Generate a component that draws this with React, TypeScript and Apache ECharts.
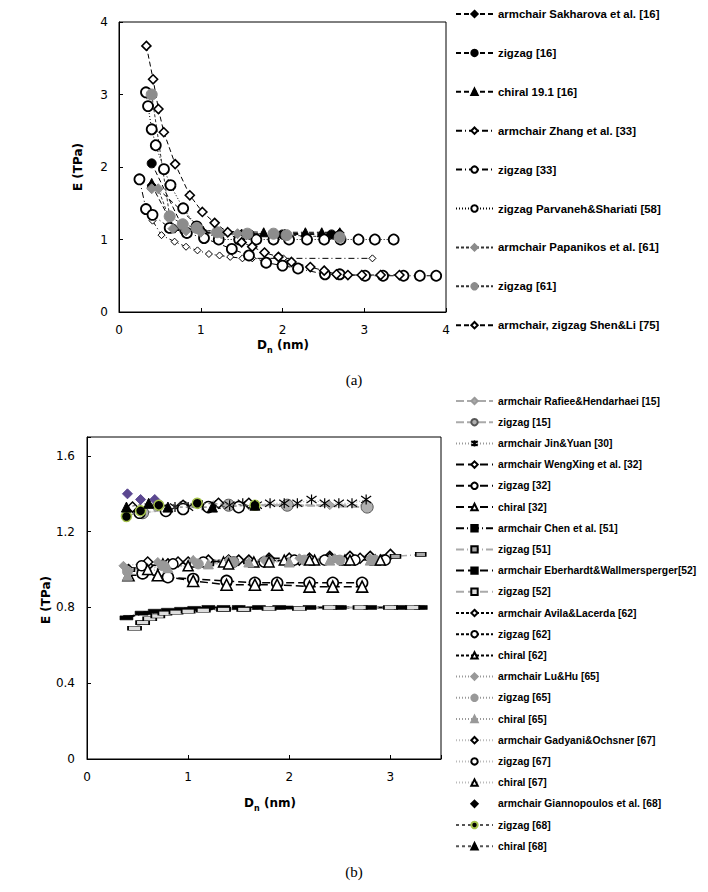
import React, { useEffect, useRef } from "react";
import * as echarts from "echarts";

// ---------- Panel (a) data ----------
const aSakharovaArmX = [0.40, 0.68, 1.03, 1.50, 2.03, 2.70];
const aSakharovaArmY = [1.75, 1.15, 1.10, 1.08, 1.08, 1.09];
const aZig16X = [0.40, 0.80, 1.20, 1.60, 2.00, 2.60];
const aZig16Y = [2.05, 1.12, 1.08, 1.07, 1.07, 1.07];
const aChiral16X = [0.40, 1.03, 1.77, 2.28, 2.48, 2.70];
const aChiral16Y = [1.78, 1.12, 1.10, 1.10, 1.10, 1.10];
const aZhangArmX = [0.41, 0.52, 0.68, 0.82, 0.96, 1.10, 1.23, 1.36, 1.51, 1.63, 2.01, 3.10];
const aZhangArmY = [1.26, 1.06, 0.97, 0.90, 0.85, 0.80, 0.78, 0.76, 0.74, 0.74, 0.74, 0.74];
const aZig33X = [0.25, 0.33, 0.41, 0.62, 0.83, 1.04, 1.38, 1.59, 1.80, 2.00, 2.19, 2.52, 2.70, 3.01, 3.23, 3.48, 3.68, 3.88];
const aZig33Y = [1.83, 1.42, 1.34, 1.16, 1.09, 1.02, 0.87, 0.78, 0.68, 0.64, 0.60, 0.52, 0.52, 0.50, 0.50, 0.50, 0.50, 0.50];
const aParvanehX = [0.33, 0.355, 0.40, 0.45, 0.55, 0.63, 0.785, 0.95, 1.22, 1.47, 1.68, 1.89, 2.08, 2.30, 2.51, 2.71, 2.93, 3.13, 3.36];
const aParvanehY = [3.03, 2.84, 2.52, 2.30, 1.97, 1.75, 1.43, 1.18, 1.00, 1.00, 1.00, 1.00, 1.00, 1.00, 1.00, 1.00, 1.00, 1.00, 1.00];
const aPapanikosArmX = [0.40, 0.48, 0.66, 0.82, 1.00, 1.25, 1.45];
const aPapanikosArmY = [1.70, 1.70, 1.15, 1.12, 1.10, 1.08, 1.08];
const aZig61X = [0.40, 0.62, 0.78, 0.95, 1.20, 1.57, 1.89, 2.05, 2.70];
const aZig61Y = [3.00, 1.32, 1.21, 1.16, 1.10, 1.08, 1.08, 1.06, 1.03];
const aShenLiX = [0.335, 0.417, 0.482, 0.548, 0.687, 0.866, 1.02, 1.17, 1.33, 1.50, 1.63, 1.78, 1.95, 2.11, 2.34, 2.51, 2.66, 2.80, 2.97, 3.20, 3.43];
const aShenLiY = [3.67, 3.21, 2.80, 2.48, 2.04, 1.61, 1.38, 1.23, 1.10, 0.96, 0.90, 0.82, 0.76, 0.69, 0.62, 0.57, 0.52, 0.51, 0.51, 0.51, 0.51];

// ---------- Panel (b) data ----------
const bRafieeArmX = [0.42, 0.68, 0.95, 1.25, 1.60, 2.00, 2.40, 2.78];
const bRafieeArmY = [1.32, 1.33, 1.34, 1.34, 1.34, 1.34, 1.34, 1.34];
const bRafieeZigX = [0.55, 0.95, 1.40, 1.98, 2.77];
const bRafieeZigY = [1.30, 1.33, 1.34, 1.34, 1.33];
const bJinX = [0.87, 1.00, 1.14, 1.27, 1.41, 1.54, 1.68, 1.81, 1.95, 2.08, 2.22, 2.35, 2.49, 2.62, 2.76];
const bJinY = [1.33, 1.33, 1.34, 1.34, 1.34, 1.35, 1.34, 1.35, 1.35, 1.35, 1.37, 1.35, 1.35, 1.35, 1.37];
const bWengArmX = [0.41, 0.60, 0.80, 1.00, 1.20, 1.40, 1.60, 1.80, 2.00, 2.20, 2.40, 2.60, 2.80, 3.00];
const bWengArmY = [1.00, 1.02, 1.03, 1.04, 1.04, 1.05, 1.05, 1.06, 1.06, 1.06, 1.07, 1.07, 1.07, 1.08];
const bWengZigX = [0.55, 0.80, 1.05, 1.38, 1.66, 1.88, 2.20, 2.43, 2.72];
const bWengZigY = [0.98, 0.96, 0.95, 0.94, 0.93, 0.93, 0.93, 0.93, 0.93];
const bWengChiX = [0.41, 0.70, 1.05, 1.38, 1.66, 1.88, 2.20, 2.43, 2.72];
const bWengChiY = [0.97, 0.97, 0.94, 0.92, 0.92, 0.92, 0.91, 0.91, 0.91];
const bChenArmX = [0.40, 0.60, 0.80, 1.00, 1.20, 1.50, 2.00, 2.50, 3.00, 3.30];
const bChenArmY = [0.75, 0.77, 0.78, 0.79, 0.795, 0.80, 0.80, 0.80, 0.80, 0.80];
const bChenZigX = [0.42, 0.80, 1.20, 1.60, 2.00, 2.40, 2.80, 3.05, 3.30];
const bChenZigY = [1.00, 1.02, 1.03, 1.04, 1.05, 1.05, 1.06, 1.07, 1.08];
const bEberArmX = [0.39, 0.54, 0.67, 0.80, 0.93, 1.06, 1.20, 1.35, 1.50, 1.70, 1.90, 2.20, 2.50, 2.80, 3.10, 3.30];
const bEberArmY = [0.745, 0.77, 0.78, 0.785, 0.79, 0.795, 0.80, 0.80, 0.80, 0.80, 0.80, 0.80, 0.80, 0.80, 0.80, 0.80];
const bEberZigX = [0.47, 0.55, 0.62, 0.70, 0.77, 0.88, 1.00, 1.15, 1.35, 1.55, 1.80, 2.10, 2.40, 2.70, 3.00, 3.22];
const bEberZigY = [0.69, 0.72, 0.74, 0.755, 0.77, 0.775, 0.78, 0.785, 0.79, 0.79, 0.795, 0.795, 0.80, 0.80, 0.80, 0.80];
const bAvilaArmX = [0.60, 0.90, 1.20, 1.50, 1.80, 2.10, 2.40, 2.70];
const bAvilaArmY = [1.04, 1.04, 1.05, 1.05, 1.05, 1.05, 1.06, 1.06];
const bAvilaZigX = [0.54, 0.85, 1.15, 1.45, 1.75, 2.05, 2.35, 2.65, 2.95];
const bAvilaZigY = [1.02, 1.03, 1.04, 1.04, 1.04, 1.05, 1.05, 1.05, 1.05];
const bAvilaChiX = [0.75, 1.05, 1.35, 1.65, 1.95, 2.25, 2.55, 2.85];
const bAvilaChiY = [1.03, 1.04, 1.04, 1.04, 1.05, 1.05, 1.05, 1.05];
const bLuArmX = [0.36, 0.70, 1.05, 1.40, 1.75, 2.10, 2.45, 2.80];
const bLuArmY = [1.02, 1.04, 1.05, 1.05, 1.05, 1.06, 1.06, 1.06];
const bLuZigX = [0.40, 0.75, 1.10, 1.45, 1.80, 2.15, 2.50, 2.85];
const bLuZigY = [0.99, 1.02, 1.03, 1.04, 1.04, 1.05, 1.05, 1.05];
const bLuChiX = [0.40, 0.80, 1.20, 1.60, 2.00, 2.40, 2.80];
const bLuChiY = [0.97, 1.01, 1.03, 1.04, 1.04, 1.05, 1.05];
const bGadArmX = [0.45, 0.70, 0.95, 1.30, 1.60];
const bGadArmY = [1.33, 1.34, 1.34, 1.35, 1.35];
const bGadZigX = [0.52, 0.78, 0.95, 1.20, 1.50];
const bGadZigY = [1.30, 1.31, 1.32, 1.33, 1.33];
const bGadChiX = [0.60, 1.00, 1.40, 1.80, 2.20, 2.60, 2.90];
const bGadChiY = [1.00, 1.02, 1.03, 1.04, 1.05, 1.05, 1.05];
const bGianArmX = [0.40, 0.53, 0.67];
const bGianArmY = [1.40, 1.37, 1.37];
const bGianZigX = [0.39, 0.53, 0.71, 1.09, 1.66];
const bGianZigY = [1.28, 1.31, 1.34, 1.35, 1.34];
const bGianChiX = [0.39, 0.61, 0.80, 1.24, 1.66];
const bGianChiY = [1.33, 1.35, 1.33, 1.33, 1.34];

// tick labels
const aTicks = [0, 1, 2, 3, 4];
const bYTicks = [0, 0.4, 0.8, 1.2, 1.6];
const bXTicks = [0, 1, 2, 3];

const ASTER = "path://M0,0L10,10M10,0L0,10M5,-2L5,12";

type Opt = {
  symbol: string;
  size: number | number[];
  fill: string;
  stroke: string;
  bw: number;
  lc: string;
  lw: number;
  lt: any;
  z?: number;
};

function ser(name: string, gi: number, xs: number[], ys: number[], o: Opt) {
  return {
    type: "line",
    name,
    xAxisIndex: gi,
    yAxisIndex: gi,
    data: xs.map((x, i) => [x, ys[i]]),
    symbol: o.symbol,
    symbolSize: o.size,
    showSymbol: true,
    showAllSymbol: true,
    lineStyle: { color: o.lc, width: o.lw, type: o.lt },
    itemStyle: { color: o.fill, borderColor: o.stroke, borderWidth: o.bw },
    silent: true,
    z: o.z ?? 2,
    emphasis: { disabled: true },
  };
}

const K = "#000";
const G = "#8c8c8c";
const W = "#fff";

const aSeries = [
  ser("armchair Sakharova et al. [16]", 0, aSakharovaArmX, aSakharovaArmY, { symbol: "diamond", size: 9, fill: K, stroke: K, bw: 1, lc: K, lw: 1, lt: [5, 3] }),
  ser("zigzag [16]", 0, aZig16X, aZig16Y, { symbol: "circle", size: 9, fill: K, stroke: K, bw: 1, lc: K, lw: 1, lt: [5, 3] }),
  ser("chiral 19.1 [16]", 0, aChiral16X, aChiral16Y, { symbol: "triangle", size: 9, fill: K, stroke: K, bw: 1, lc: K, lw: 1, lt: [5, 3] }),
  ser("armchair Zhang et al. [33]", 0, aZhangArmX, aZhangArmY, { symbol: "diamond", size: 7, fill: W, stroke: K, bw: 1, lc: K, lw: 1, lt: [6, 3, 1, 3] }),
  ser("zigzag [33]", 0, aZig33X, aZig33Y, { symbol: "circle", size: 10, fill: W, stroke: K, bw: 1.8, lc: K, lw: 1, lt: [6, 3, 1, 3] }),
  ser("zigzag Parvaneh&Shariati [58]", 0, aParvanehX, aParvanehY, { symbol: "circle", size: 10, fill: W, stroke: K, bw: 1.8, lc: K, lw: 1, lt: [1, 2] }),
  ser("armchair Papanikos et al. [61]", 0, aPapanikosArmX, aPapanikosArmY, { symbol: "diamond", size: 10, fill: G, stroke: G, bw: 1, lc: "#333", lw: 1, lt: [3, 2] }),
  ser("zigzag [61]", 0, aZig61X, aZig61Y, { symbol: "circle", size: 11, fill: G, stroke: G, bw: 1, lc: "#333", lw: 1, lt: [3, 2] }),
  ser("armchair, zigzag Shen&Li [75]", 0, aShenLiX, aShenLiY, { symbol: "diamond", size: 9, fill: W, stroke: K, bw: 1.6, lc: K, lw: 1, lt: [5, 3] }),
];

const PUR = "#5b4790";
const GRN = "#a6c34c";

const bSeries = [
  ser("armchair Rafiee&Hendarhaei [15]", 1, bRafieeArmX, bRafieeArmY, { symbol: "diamond", size: 9, fill: "#aaa", stroke: "#999", bw: 1, lc: "#aaa", lw: 2, lt: [8, 3] }),
  ser("zigzag [15]", 1, bRafieeZigX, bRafieeZigY, { symbol: "circle", size: 12, fill: "#b0b0b0", stroke: "#555", bw: 1, lc: "#aaa", lw: 2, lt: [8, 3] }),
  ser("armchair Jin&Yuan [30]", 1, bJinX, bJinY, { symbol: ASTER, size: 10, fill: K, stroke: K, bw: 1.2, lc: "#999", lw: 1, lt: [1, 2] }),
  ser("armchair WengXing et al. [32]", 1, bWengArmX, bWengArmY, { symbol: "diamond", size: 10, fill: W, stroke: K, bw: 1.6, lc: K, lw: 1.5, lt: [8, 4] }),
  ser("zigzag [32]", 1, bWengZigX, bWengZigY, { symbol: "circle", size: 11, fill: W, stroke: K, bw: 1.6, lc: K, lw: 1.5, lt: [8, 4] }),
  ser("chiral [32]", 1, bWengChiX, bWengChiY, { symbol: "triangle", size: 11, fill: W, stroke: K, bw: 1.6, lc: K, lw: 1.5, lt: [8, 4] }),
  ser("armchair Chen et al. [51]", 1, bChenArmX, bChenArmY, { symbol: "rect", size: [8, 3], fill: K, stroke: K, bw: 0.5, lc: K, lw: 1.5, lt: [8, 3, 1, 3] }),
  ser("zigzag [51]", 1, bChenZigX, bChenZigY, { symbol: "rect", size: [10, 4], fill: "#aaa", stroke: K, bw: 1, lc: "#aaa", lw: 1.5, lt: [8, 3, 1, 3] }),
  ser("armchair Eberhardt&Wallmersperger[52]", 1, bEberArmX, bEberArmY, { symbol: "rect", size: [13, 4], fill: K, stroke: K, bw: 0.5, lc: K, lw: 2, lt: [8, 4] }),
  ser("zigzag [52]", 1, bEberZigX, bEberZigY, { symbol: "rect", size: [13, 4], fill: "#ddd", stroke: K, bw: 1, lc: "#aaa", lw: 2, lt: [8, 4] }),
  ser("armchair Avila&Lacerda [62]", 1, bAvilaArmX, bAvilaArmY, { symbol: "diamond", size: 10, fill: W, stroke: K, bw: 1.5, lc: K, lw: 1, lt: [3, 2] }),
  ser("zigzag [62]", 1, bAvilaZigX, bAvilaZigY, { symbol: "circle", size: 10, fill: W, stroke: K, bw: 1.5, lc: K, lw: 1, lt: [3, 2] }),
  ser("chiral [62]", 1, bAvilaChiX, bAvilaChiY, { symbol: "triangle", size: 10, fill: W, stroke: K, bw: 1.5, lc: K, lw: 1, lt: [3, 2] }),
  ser("armchair Lu&Hu [65]", 1, bLuArmX, bLuArmY, { symbol: "diamond", size: 9, fill: "#999", stroke: "#999", bw: 1, lc: "#999", lw: 1, lt: [1, 2] }),
  ser("zigzag [65]", 1, bLuZigX, bLuZigY, { symbol: "circle", size: 10, fill: "#999", stroke: "#999", bw: 1, lc: "#999", lw: 1, lt: [1, 2] }),
  ser("chiral [65]", 1, bLuChiX, bLuChiY, { symbol: "triangle", size: 10, fill: "#999", stroke: "#999", bw: 1, lc: "#999", lw: 1, lt: [1, 2] }),
  ser("armchair Gadyani&Ochsner [67]", 1, bGadArmX, bGadArmY, { symbol: "diamond", size: 10, fill: W, stroke: K, bw: 1.5, lc: "#bbb", lw: 1, lt: [1, 2] }),
  ser("zigzag [67]", 1, bGadZigX, bGadZigY, { symbol: "circle", size: 11, fill: W, stroke: K, bw: 1.5, lc: "#bbb", lw: 1, lt: [1, 2] }),
  ser("chiral [67]", 1, bGadChiX, bGadChiY, { symbol: "triangle", size: 10, fill: W, stroke: K, bw: 1.5, lc: "#bbb", lw: 1, lt: [1, 2] }),
  ser("armchair Giannopoulos et al. [68]", 1, bGianArmX, bGianArmY, { symbol: "diamond", size: 10, fill: PUR, stroke: PUR, bw: 1, lc: PUR, lw: 0, lt: "solid", z: 3 }),
  ser("zigzag [68]", 1, bGianZigX, bGianZigY, { symbol: "circle", size: 10, fill: K, stroke: GRN, bw: 1.5, lc: "#555", lw: 1, lt: [3, 3], z: 3 }),
  ser("chiral [68]", 1, bGianChiX, bGianChiY, { symbol: "triangle", size: 10, fill: K, stroke: K, bw: 1, lc: "#555", lw: 1, lt: [3, 3], z: 3 }),
];

const TICK_FONT = { fontFamily: "DejaVu Sans", fontSize: 12, color: "#000" };

function valueAxis(gi: number, min: number, max: number, interval: number, ticks: number[], margin: number) {
  return {
    type: "value",
    gridIndex: gi,
    min,
    max,
    interval,
    axisLine: { show: true, lineStyle: { color: "#000", width: 1 } },
    axisTick: { show: true, inside: true, length: 4, lineStyle: { color: "#000" } },
    splitLine: { show: false },
    axisLabel: {
      ...TICK_FONT,
      margin,
      formatter: (v: number) => {
        const hit = ticks.find((t) => Math.abs(t - v) < 1e-6);
        return hit === undefined ? "" : String(hit);
      },
    },
  };
}

const titleRich = {
  b: { fontFamily: "DejaVu Sans", fontSize: 12, fontWeight: "bold", color: "#000", lineHeight: 18 },
  s: { fontFamily: "DejaVu Sans", fontSize: 8, fontWeight: "bold", color: "#000", lineHeight: 12, verticalAlign: "bottom" },
};

const bLegendData = bSeries.map((s) =>
  s.name === "armchair Giannopoulos et al. [68]"
    ? { name: s.name, itemStyle: { color: "#000", borderColor: "#000" } }
    : { name: s.name }
);

export default function App() {
  const ref = useRef<HTMLDivElement>(null);
  useEffect(() => {
    if (!ref.current) return;
    const chart = echarts.init(ref.current, undefined, { renderer: "svg" });
    chart.setOption({
      animation: false,
      backgroundColor: "#fff",
      grid: [
        { left: 119, top: 22, width: 327, height: 290, show: true, borderColor: "#000", borderWidth: 1, backgroundColor: "transparent", containLabel: false, outerBoundsMode: "none" },
        { left: 87, top: 437, width: 354, height: 322, show: true, borderColor: "#000", borderWidth: 1, backgroundColor: "transparent", containLabel: false, outerBoundsMode: "none" },
      ],
      xAxis: [valueAxis(0, 0, 4, 1, aTicks, 12), valueAxis(1, 0, 3.5, 1, bXTicks, 12)],
      yAxis: [valueAxis(0, 0, 4, 1, aTicks, 11), valueAxis(1, 0, 1.7, 0.4, bYTicks, 12)],
      legend: [
        {
          data: aSeries.map((s) => s.name),
          orient: "vertical",
          left: 455,
          top: 7,
          padding: 0,
          itemWidth: 37,
          itemHeight: 8,
          itemGap: 24.9,
          selectedMode: false,
          textStyle: { fontFamily: "Liberation Sans", fontWeight: "bold", fontSize: 11.4, lineHeight: 14, color: "#000" },
        },
        {
          data: bLegendData,
          orient: "vertical",
          left: 455,
          top: 394.5,
          padding: 0,
          itemWidth: 37,
          itemHeight: 8,
          itemGap: 8.2,
          selectedMode: false,
          textStyle: { fontFamily: "Liberation Sans", fontWeight: "bold", fontSize: 10.3, lineHeight: 13, color: "#000" },
        },
      ],
      graphic: [
        { type: "text", x: 78, y: 167, rotation: Math.PI / 2, style: { text: "E (TPa)", font: "bold 12px 'DejaVu Sans'", fill: "#000", align: "center", verticalAlign: "middle" } },
        { type: "text", x: 283, y: 345, style: { text: "{b|D}{s|n}{b| (nm)}", rich: titleRich, align: "center", verticalAlign: "middle" } },
        { type: "text", x: 354, y: 380, style: { text: "(a)", font: "15px 'Liberation Serif'", fill: "#000", align: "center", verticalAlign: "middle" } },
        { type: "text", x: 46, y: 600, rotation: Math.PI / 2, style: { text: "E (TPa)", font: "bold 12px 'DejaVu Sans'", fill: "#000", align: "center", verticalAlign: "middle" } },
        { type: "text", x: 270, y: 803, style: { text: "{b|D}{s|n}{b| (nm)}", rich: titleRich, align: "center", verticalAlign: "middle" } },
        { type: "text", x: 354, y: 872, style: { text: "(b)", font: "15px 'Liberation Serif'", fill: "#000", align: "center", verticalAlign: "middle" } },
      ],
      series: [...aSeries, ...bSeries],
    });
    return () => chart.dispose();
  }, []);
  return <div ref={ref} style={{ position: "absolute", left: 0, top: 0, width: 708, height: 892, background: "#fff" }} />;
}
